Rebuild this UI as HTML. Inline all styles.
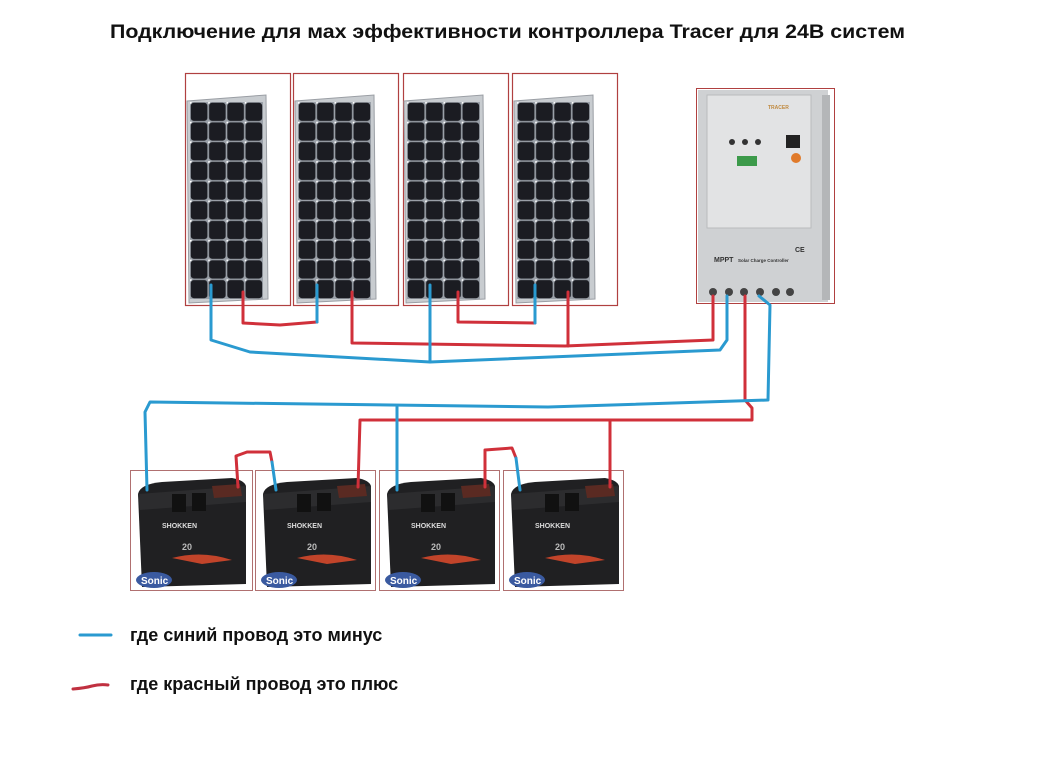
<!DOCTYPE html>
<html><head><meta charset="utf-8"><style>
html,body{margin:0;padding:0;background:#fff;}
svg{display:block;}
text{font-family:"Liberation Sans","DejaVu Sans",sans-serif;font-weight:bold;fill:#111;}
</style></head><body>
<svg width="1047" height="775" viewBox="0 0 1047 775" xmlns="http://www.w3.org/2000/svg">
<defs>
<pattern id="cells" x="0" y="0" width="0.25" height="0.1" patternUnits="objectBoundingBox">
<rect width="18.25" height="19.7" fill="#9aa0a8"/>
<rect x="0.8" y="0.8" width="16.6" height="18.1" rx="3" fill="#1b1c22"/>
<circle cx="0" cy="0" r="1.8" fill="#fff"/>
</pattern>
<g id="panel">
<polygon points="5,28 84,22 86,226 7,230" fill="#c8ccd0" stroke="#9a9ea4"/>
<rect x="8" y="29" width="73" height="197" fill="url(#cells)"/>
</g>
<g id="bat">
<path d="M6,22 Q8,12 30,10 L100,6 Q112,8 114,14 L114,112 L10,115 Z" fill="#202022"/>
<path d="M6,22 L114,14 L114,30 L8,38 Z" fill="#2c2c2e"/>
<rect x="40" y="22" width="14" height="18" fill="#111"/>
<rect x="60" y="21" width="14" height="18" fill="#111"/>
<path d="M80,14 L108,12 L110,24 L82,26 Z" fill="#5a2a22"/>
<text x="30" y="56" font-size="7" style="fill:#ddd">SHOKKEN</text>
<text x="50" y="78" font-size="9" style="fill:#bbb">20</text>
<path d="M40,86 Q70,78 100,88 L70,92 Z" fill="#c2442a"/>
<ellipse cx="22" cy="108" rx="18" ry="8" fill="#3a5aa0"/>
<text x="9" y="112" font-size="10" style="fill:#fff">Sonic</text>
</g>
</defs>

<text x="110" y="38" font-size="19" textLength="795" lengthAdjust="spacingAndGlyphs">Подключение для мах эффективности контроллера Tracer  для 24В систем</text>

<!-- panels -->
<g fill="#fff" stroke="#b04040" stroke-width="1.2">
<rect x="185.5" y="73.5" width="105" height="232"/>
<rect x="293.5" y="73.5" width="105" height="232"/>
<rect x="403.5" y="73.5" width="105" height="232"/>
<rect x="512.5" y="73.5" width="105" height="232"/>
</g>
<use href="#panel" x="182" y="73"/>
<use href="#panel" x="290" y="73"/>
<use href="#panel" x="399" y="73"/>
<use href="#panel" x="509" y="73"/>

<!-- controller -->
<rect x="696.5" y="88.5" width="138" height="215" fill="#fff" stroke="#b04040"/>
<rect x="698" y="90" width="130" height="212" fill="#cfd1d3"/>
<rect x="707" y="95" width="104" height="133" fill="#e2e3e4" stroke="#b9bbbd"/>
<rect x="822" y="95" width="8" height="205" fill="#b4b6b8"/>
<text x="768" y="109" font-size="5" style="fill:#c08a40">TRACER</text>
<circle cx="732" cy="142" r="3" fill="#333"/><circle cx="745" cy="142" r="3" fill="#333"/><circle cx="758" cy="142" r="3" fill="#333"/>
<rect x="737" y="156" width="20" height="10" fill="#3c9a4a"/>
<rect x="786" y="135" width="14" height="13" fill="#222"/>
<circle cx="796" cy="158" r="5" fill="#e07a2a"/>
<text x="714" y="262" font-size="7" style="fill:#333">MPPT</text>
<text x="738" y="262" font-size="4.5" style="fill:#333">Solar Charge Controller</text>
<text x="795" y="252" font-size="7" style="fill:#333">CE</text>
<g fill="#444"><circle cx="713" cy="292" r="4"/><circle cx="729" cy="292" r="4"/><circle cx="744" cy="292" r="4"/><circle cx="760" cy="292" r="4"/><circle cx="776" cy="292" r="4"/><circle cx="790" cy="292" r="4"/></g>

<!-- batteries -->
<g fill="#fff" stroke="#b07070" stroke-width="1">
<rect x="130.5" y="470.5" width="122" height="120"/>
<rect x="255.5" y="470.5" width="120" height="120"/>
<rect x="379.5" y="470.5" width="120" height="120"/>
<rect x="503.5" y="470.5" width="120" height="120"/>
</g>
<use href="#bat" x="132" y="472"/>
<use href="#bat" x="257" y="472"/>
<use href="#bat" x="381" y="472"/>
<use href="#bat" x="505" y="472"/>

<!-- wires -->
<g fill="none" stroke-width="3" stroke-linejoin="round" stroke-linecap="round">
<polyline stroke="#d0303a" points="243,292 243,323 280,325 317,322"/>
<polyline stroke="#d0303a" points="458,292 458,322 535,323"/>
<polyline stroke="#d0303a" points="352,292 352,343 565,346 713,340 713,296"/>
<polyline stroke="#d0303a" points="568,292 568,346"/>
<polyline stroke="#d0303a" points="745,296 745,400 752,408 752,420 360,420 358,487"/>
<polyline stroke="#d0303a" points="610,421 610,487"/>
<polyline stroke="#d0303a" points="238,487 236,456 247,452 270,452 272,462"/>
<polyline stroke="#d0303a" points="485,487 485,450 512,448 516,458"/>
<polyline stroke="#2a9ad0" points="317,285 317,322"/>
<polyline stroke="#2a9ad0" points="535,285 535,323"/>
<polyline stroke="#2a9ad0" points="211,285 211,340 250,352 430,362 720,350 727,340 727,296"/>
<polyline stroke="#2a9ad0" points="430,285 430,362"/>
<polyline stroke="#2a9ad0" points="759,296 770,305 768,400 548,407 150,402 145,412 147,490"/>
<polyline stroke="#2a9ad0" points="397,407 397,490"/>
<polyline stroke="#2a9ad0" points="272,462 276,490"/>
<polyline stroke="#2a9ad0" points="516,458 520,490"/>
<line x1="80" y1="635" x2="111" y2="635" stroke="#2a9ad0"/>
<path d="M73,689 Q85,688 92,686 Q100,684 108,685" stroke="#c03040"/>
</g>
<text x="130" y="641" font-size="18">где синий провод это минус</text>
<text x="130" y="690" font-size="18">где красный провод это плюс</text>
</svg>
</body></html>
